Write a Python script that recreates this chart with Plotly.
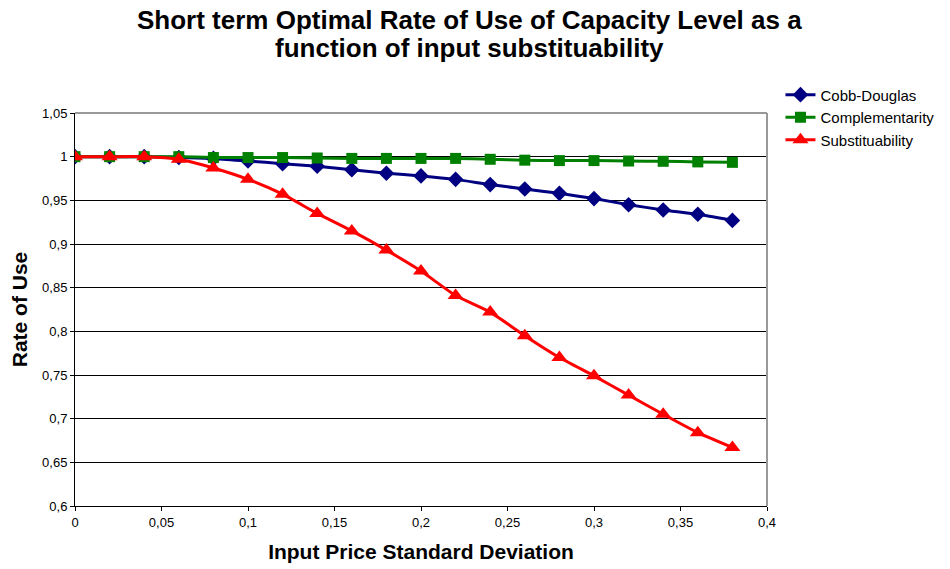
import plotly.graph_objects as go

x_vals = [0, 0.02, 0.04, 0.06, 0.08, 0.10, 0.12, 0.14, 0.16, 0.18, 0.20,
          0.22, 0.24, 0.26, 0.28, 0.30, 0.32, 0.34, 0.36, 0.38]
cobb_douglas = [1.000, 1.000, 1.000, 0.999, 0.998, 0.995, 0.992, 0.989, 0.985, 0.981, 0.978,
                0.974, 0.968, 0.963, 0.958, 0.952, 0.945, 0.939, 0.934, 0.927]
complementarity = [1.000, 1.000, 1.000, 1.000, 0.999, 0.999, 0.999, 0.9985, 0.998, 0.998, 0.998,
                   0.998, 0.997, 0.996, 0.9955, 0.9955, 0.995, 0.9947, 0.994, 0.9935]
substituability = [1.000, 1.000, 1.000, 0.997, 0.987, 0.974, 0.957, 0.935, 0.915, 0.893, 0.869,
                   0.841, 0.822, 0.795, 0.770, 0.749, 0.727, 0.705, 0.684, 0.667]
y_ticks = [0.6, 0.65, 0.7, 0.75, 0.8, 0.85, 0.9, 0.95, 1.0, 1.05]
x_ticks = [0, 0.05, 0.1, 0.15, 0.2, 0.25, 0.3, 0.35, 0.4]
title_lines = ["Short term Optimal Rate of Use of Capacity Level as a",
               "function of input substituability"]

FONT = "Liberation Sans, Arial, sans-serif"

fig = go.Figure()
fig.add_trace(go.Scatter(x=x_vals, y=cobb_douglas, name="Cobb-Douglas", mode="lines+markers",
                         line=dict(color="#000080", width=3, shape="spline", smoothing=0.5),
                         marker=dict(symbol="diamond", size=12, color="#000080")))
fig.add_trace(go.Scatter(x=x_vals, y=complementarity, name="Complementarity", mode="lines+markers",
                         line=dict(color="#008000", width=3, shape="spline", smoothing=0.5),
                         marker=dict(symbol="square", size=11, color="#008000")))
fig.add_trace(go.Scatter(x=x_vals, y=substituability, name="Substituability", mode="lines+markers",
                         line=dict(color="#FF0000", width=3, shape="spline", smoothing=0.5),
                         marker=dict(symbol="triangle-up", size=14, color="#FF0000")))

fig.update_layout(
    width=950, height=569,
    paper_bgcolor="white", plot_bgcolor="white",
    separators=",.",
    font=dict(family=FONT, color="black"),
    margin=dict(l=75, r=182, t=113, b=63),
    legend=dict(x=1.018, xanchor="left", y=1.088, yanchor="top",
                font=dict(size=15, family=FONT), tracegroupgap=5,
                itemwidth=30, bgcolor="rgba(0,0,0,0)"),
    showlegend=True,
)
for i, line in enumerate(title_lines):
    fig.add_annotation(text="<b>" + line + "</b>", xref="paper", yref="paper",
                       x=(470 - 75) / 693, xanchor="center",
                       y=1 + (113 - (20 + 28 * i)) / 393, yanchor="middle",
                       showarrow=False, font=dict(size=26, family=FONT, color="black"))

fig.update_xaxes(range=[0, 0.4], tickvals=x_ticks, automargin=False,
                 showgrid=False, zeroline=False,
                 showline=True, linecolor="#000000", linewidth=1,
                 ticks="outside", ticklen=4, tickcolor="#000000",
                 tickfont=dict(size=13, family=FONT),
                 title=dict(text="<b>Input Price Standard Deviation</b>", font=dict(size=21, family=FONT), standoff=15))
fig.update_yaxes(range=[0.6, 1.05], tickvals=y_ticks, automargin=False,
                 showgrid=True, gridcolor="#000000", gridwidth=1, zeroline=False,
                 showline=True, linecolor="#000000", linewidth=1,
                 ticks="outside", ticklen=4, tickcolor="#000000",
                 tickfont=dict(size=13, family=FONT),
                 title=dict(text="<b>Rate of Use</b>", font=dict(size=21, family=FONT), standoff=8))

# gray frame on top and right of plot area
fig.add_shape(type="line", xref="paper", yref="paper", x0=0, x1=1, y0=1, y1=1,
              line=dict(color="#999999", width=2))
fig.add_shape(type="line", xref="paper", yref="paper", x0=1, x1=1, y0=0, y1=1,
              line=dict(color="#999999", width=2))

fig.write_html("out.html")
